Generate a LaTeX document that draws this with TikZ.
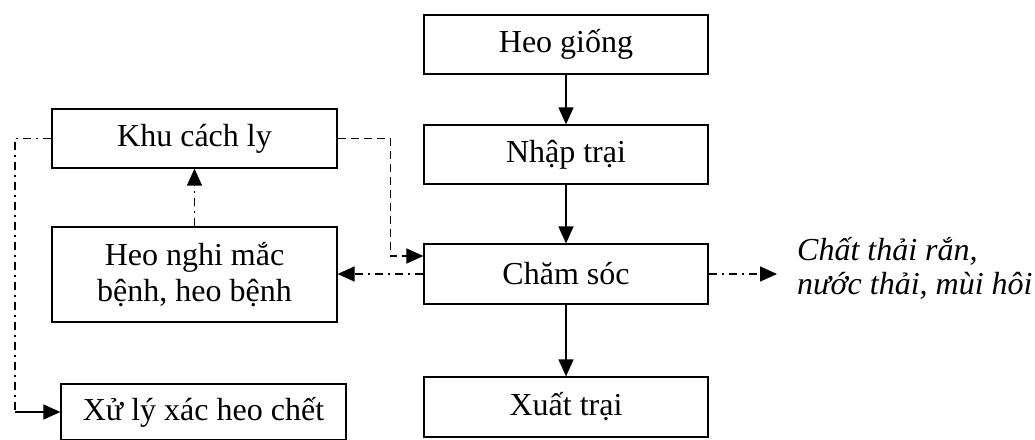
\documentclass[tikz,border=0pt]{standalone}
\usepackage{fontspec}
\setmainfont{Liberation Serif}
\usetikzlibrary{arrows.meta}
\begin{document}
\begin{tikzpicture}[x=1pt,y=-1pt,
  box/.style={draw, line width=1.2pt, minimum width=284pt, inner sep=0pt, align=center,
    font=\fontsize{32}{36}\selectfont},
  conn/.style={line width=1.4pt, -{Triangle[length=17pt,width=15pt]}},
  dsh/.style={dash pattern=on 8pt off 5pt},
  dd/.style={dash pattern=on 8pt off 5pt on 2pt off 5pt}]
\useasboundingbox (0,0) rectangle (1035,439);
\node[box, minimum height=59pt] (giong) at (566,44.5) {Heo giống};
\node[box, minimum height=59pt] (nhap) at (566,154.5) {Nhập trại};
\node[box, minimum height=60pt] (cham) at (566,274) {Chăm sóc};
\node[box, minimum height=60pt] (xuat) at (566,407) {Xuất trại};
\node[box, minimum width=285pt, minimum height=59pt] (khu) at (194.5,138.5) {Khu cách ly};
\node[box, minimum width=285pt, minimum height=95pt] (nghi) at (194.5,274.5) {Heo nghi mắc\\bệnh, heo bệnh};
\node[box, minimum width=285pt, minimum height=56pt] (xuly) at (203.5,412) {Xử lý xác heo chết};
\node[align=left, anchor=west, inner sep=0pt, font=\fontsize{32}{34}\selectfont\itshape] (out) at (797,268) {Chất thải rắn,\\nước thải, mùi hôi};
\coordinate (bl) at (15,412);
\draw[conn] (giong) -- (nhap);
\draw[conn] (nhap) -- (cham);
\draw[conn] (cham) -- (xuat);
\draw[conn, dsh] (khu.east) -- ++(53,0) |- ([yshift=18pt]cham.west);
\draw[conn, dd] (cham.west) -- (cham.west -| nghi.east);
\draw[conn, dd] (nghi.north) -- (khu.south);
\draw[line width=1.4pt, dd] (khu.west) -| (bl);
\draw[conn] (bl) -- (xuly.west);
\draw[conn, dd] (cham.east) -- ([xshift=-20pt]out.west |- cham.east);
\end{tikzpicture}
\end{document}
